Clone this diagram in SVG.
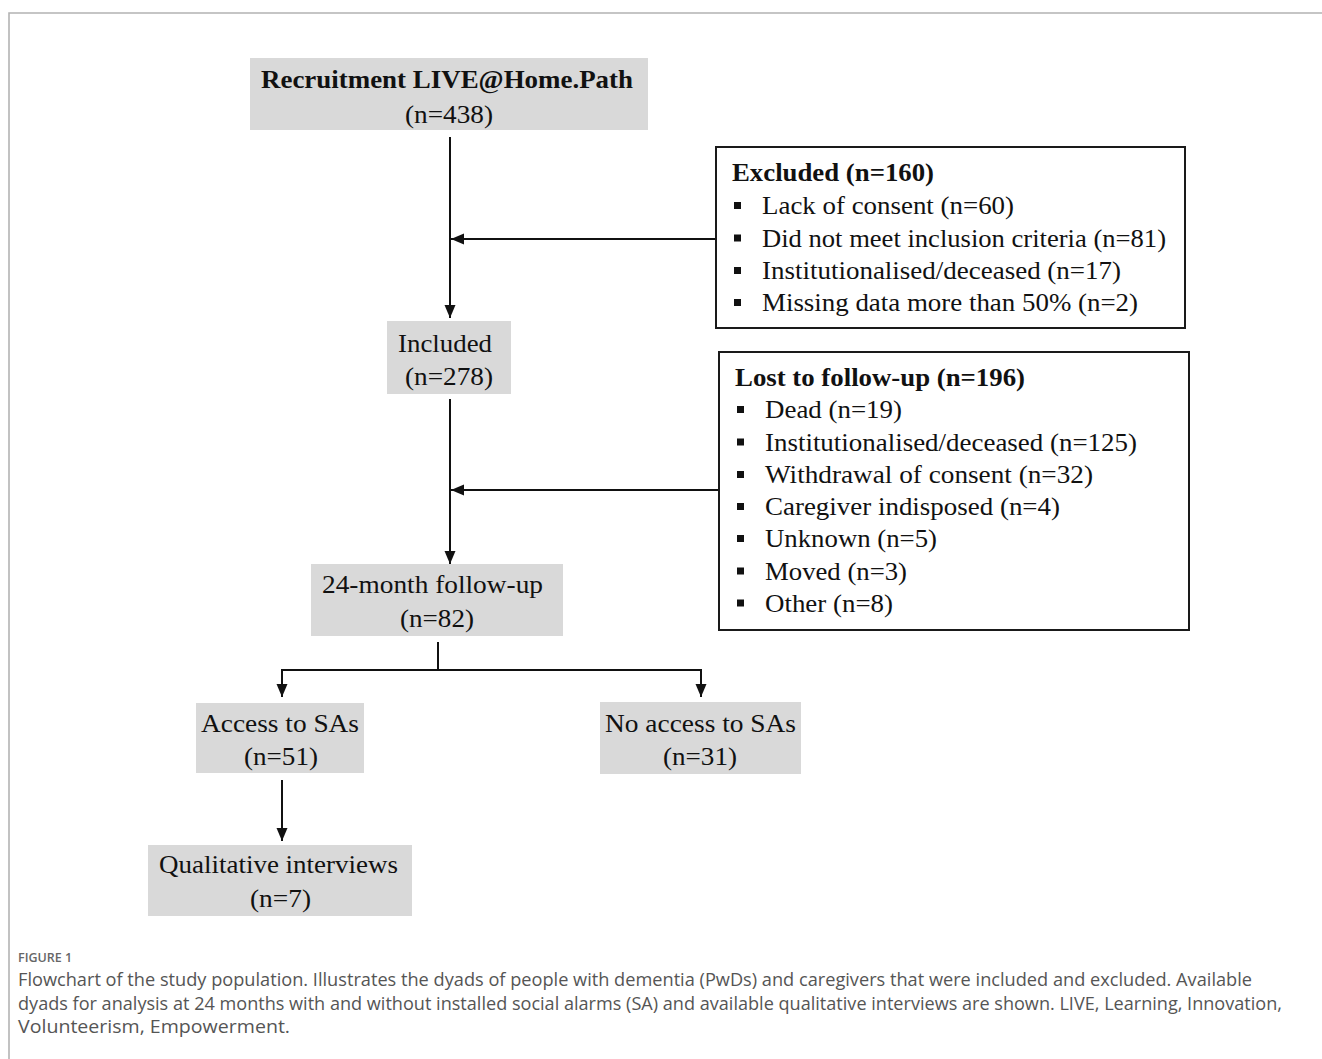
<svg xmlns="http://www.w3.org/2000/svg" width="1322" height="1059" viewBox="0 0 1322 1059">
<defs>
<style>
.bg{fill:#ffffff}
.frame{fill:none;stroke:#b3b3b3;stroke-width:1.6}
.gbox{fill:#d9d9d9}
.wbox{fill:#ffffff;stroke:#1a1a1a;stroke-width:2}
.t{font-family:"Liberation Serif","Times New Roman",serif;font-size:25px;fill:#111}
.b{font-weight:bold}
.bul{fill:#111}
.conn{fill:none;stroke:#111;stroke-width:2}
.cap{font-family:"Open Sans","Noto Sans",sans-serif;font-size:17.5px;fill:#555}
.fig{font-family:"Open Sans","Noto Sans",sans-serif;font-size:12.5px;font-weight:600;fill:#666}
</style>
<marker id="ah" markerUnits="userSpaceOnUse" markerWidth="14" markerHeight="12" refX="13" refY="5.5" orient="auto">
<path d="M0,0 L13,5.5 L0,11 z" fill="#111"/>
</marker>
</defs>
<rect class="bg" x="0" y="0" width="1322" height="1059"/>
<path class="frame" d="M9,1059 V13 H1322"/>

<g id="connectors">
<line class="conn" x1="450" y1="137" x2="450" y2="318" marker-end="url(#ah)"/>
<line class="conn" x1="716" y1="239" x2="451" y2="239" marker-end="url(#ah)"/>
<line class="conn" x1="450" y1="399" x2="450" y2="564" marker-end="url(#ah)"/>
<line class="conn" x1="719" y1="490" x2="451" y2="490" marker-end="url(#ah)"/>
<line class="conn" x1="438" y1="642" x2="438" y2="670"/>
<line class="conn" x1="281" y1="670" x2="702" y2="670"/>
<line class="conn" x1="282" y1="669" x2="282" y2="697" marker-end="url(#ah)"/>
<line class="conn" x1="701" y1="669" x2="701" y2="697" marker-end="url(#ah)"/>
<line class="conn" x1="282" y1="780" x2="282" y2="841" marker-end="url(#ah)"/>
</g>

<g id="recruitment">
<rect class="gbox" x="250" y="58" width="398" height="72"/>
<text class="t b" x="261" y="88" textLength="372" lengthAdjust="spacingAndGlyphs">Recruitment LIVE@Home.Path</text>
<text class="t" x="405" y="123" textLength="88" lengthAdjust="spacingAndGlyphs">(n=438)</text>
</g>

<g id="excluded">
<rect class="wbox" x="716" y="147" width="469" height="181"/>
<text class="t b" x="732" y="181" textLength="202" lengthAdjust="spacingAndGlyphs">Excluded (n=160)</text>
<rect class="bul" x="734" y="202" width="7" height="7"/>
<text class="t" x="762" y="214" textLength="252" lengthAdjust="spacingAndGlyphs">Lack of consent (n=60)</text>
<rect class="bul" x="734" y="234.5" width="7" height="7"/>
<text class="t" x="762" y="246.5" textLength="404" lengthAdjust="spacingAndGlyphs">Did not meet inclusion criteria (n=81)</text>
<rect class="bul" x="734" y="267" width="7" height="7"/>
<text class="t" x="762" y="279" textLength="359" lengthAdjust="spacingAndGlyphs">Institutionalised/deceased (n=17)</text>
<rect class="bul" x="734" y="299" width="7" height="7"/>
<text class="t" x="762" y="311" textLength="376" lengthAdjust="spacingAndGlyphs">Missing data more than 50% (n=2)</text>
</g>

<g id="included">
<rect class="gbox" x="387" y="321" width="124" height="73"/>
<text class="t" x="398" y="352" textLength="94" lengthAdjust="spacingAndGlyphs">Included</text>
<text class="t" x="405" y="385" textLength="88" lengthAdjust="spacingAndGlyphs">(n=278)</text>
</g>

<g id="lost">
<rect class="wbox" x="719" y="352" width="470" height="278"/>
<text class="t b" x="735" y="386" textLength="290" lengthAdjust="spacingAndGlyphs">Lost to follow-up (n=196)</text>
<rect class="bul" x="737" y="406" width="7" height="7"/>
<text class="t" x="765" y="418" textLength="137" lengthAdjust="spacingAndGlyphs">Dead (n=19)</text>
<rect class="bul" x="737" y="438.5" width="7" height="7"/>
<text class="t" x="765" y="450.5" textLength="372" lengthAdjust="spacingAndGlyphs">Institutionalised/deceased (n=125)</text>
<rect class="bul" x="737" y="471" width="7" height="7"/>
<text class="t" x="765" y="483" textLength="328" lengthAdjust="spacingAndGlyphs">Withdrawal of consent (n=32)</text>
<rect class="bul" x="737" y="503" width="7" height="7"/>
<text class="t" x="765" y="515" textLength="295" lengthAdjust="spacingAndGlyphs">Caregiver indisposed (n=4)</text>
<rect class="bul" x="737" y="535" width="7" height="7"/>
<text class="t" x="765" y="547" textLength="172" lengthAdjust="spacingAndGlyphs">Unknown (n=5)</text>
<rect class="bul" x="737" y="567.5" width="7" height="7"/>
<text class="t" x="765" y="579.5" textLength="142" lengthAdjust="spacingAndGlyphs">Moved (n=3)</text>
<rect class="bul" x="737" y="599.5" width="7" height="7"/>
<text class="t" x="765" y="611.5" textLength="128" lengthAdjust="spacingAndGlyphs">Other (n=8)</text>
</g>

<g id="followup24">
<rect class="gbox" x="311" y="564" width="252" height="72"/>
<text class="t" x="322" y="593" textLength="221" lengthAdjust="spacingAndGlyphs">24-month follow-up</text>
<text class="t" x="400" y="627" textLength="74" lengthAdjust="spacingAndGlyphs">(n=82)</text>
</g>

<g id="access">
<rect class="gbox" x="196" y="703" width="168" height="70"/>
<text class="t" x="201" y="732" textLength="158" lengthAdjust="spacingAndGlyphs">Access to SAs</text>
<text class="t" x="244" y="765" textLength="74" lengthAdjust="spacingAndGlyphs">(n=51)</text>
</g>

<g id="noaccess">
<rect class="gbox" x="600" y="702" width="201" height="72"/>
<text class="t" x="605" y="732" textLength="191" lengthAdjust="spacingAndGlyphs">No access to SAs</text>
<text class="t" x="663" y="765" textLength="74" lengthAdjust="spacingAndGlyphs">(n=31)</text>
</g>

<g id="qualitative">
<rect class="gbox" x="148" y="845" width="264" height="71"/>
<text class="t" x="159" y="873" textLength="239" lengthAdjust="spacingAndGlyphs">Qualitative interviews</text>
<text class="t" x="250" y="907" textLength="61" lengthAdjust="spacingAndGlyphs">(n=7)</text>
</g>

<g id="caption">
<text class="fig" x="18" y="962">FIGURE 1</text>
<text class="cap" x="18" y="986" textLength="1234" lengthAdjust="spacingAndGlyphs">Flowchart of the study population. Illustrates the dyads of people with dementia (PwDs) and caregivers that were included and excluded. Available</text>
<text class="cap" x="18" y="1009.5" textLength="1264" lengthAdjust="spacingAndGlyphs">dyads for analysis at 24 months with and without installed social alarms (SA) and available qualitative interviews are shown. LIVE, Learning, Innovation,</text>
<text class="cap" x="18" y="1033" textLength="272" lengthAdjust="spacingAndGlyphs">Volunteerism, Empowerment.</text>
</g>
</svg>
